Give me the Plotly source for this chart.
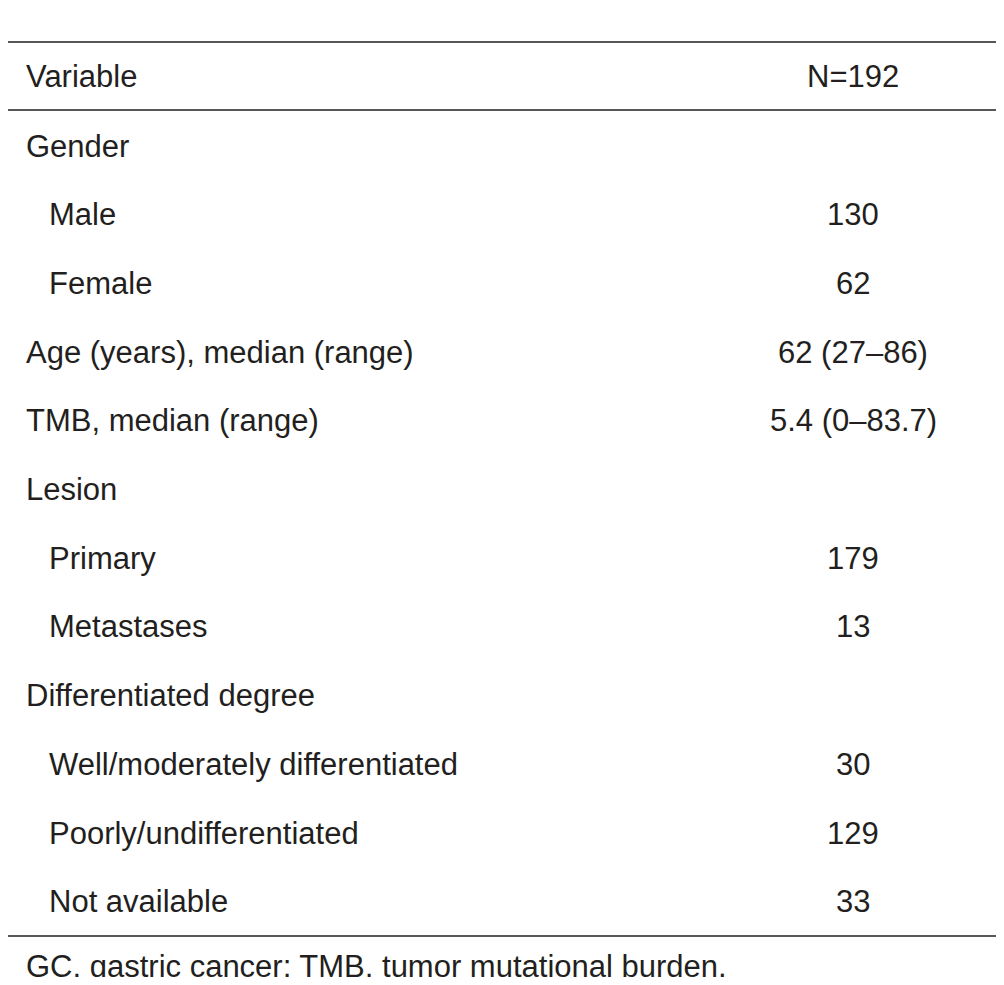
import plotly.graph_objects as go

title_bold = "Table 1"
title_rest = " Clinicopathologic features of 192 Chinese GC patients"
header = ["Variable", "N=192"]
labels = ["Gender", "Male", "Female", "Age (years), median (range)", "TMB, median (range)",
          "Lesion", "Primary", "Metastases", "Differentiated degree",
          "Well/moderately differentiated", "Poorly/undifferentiated", "Not available"]
indent = [0, 1, 1, 0, 0, 0, 1, 1, 0, 1, 1, 1]
values = ["", "130", "62", "62 (27–86)", "5.4 (0–83.7)", "", "179", "13", "", "30", "129", "33"]
footnote = "GC, gastric cancer; TMB, tumor mutational burden."

W, H, M = 1004, 985, 8
fig = go.Figure()
fig.update_layout(width=W - 2 * M, height=H - 2 * M, margin=dict(l=0, r=0, t=0, b=0),
                  plot_bgcolor="white", paper_bgcolor="white", showlegend=False,
                  xaxis=dict(range=[M, W - M], visible=False, fixedrange=True),
                  yaxis=dict(range=[H - M, M], visible=False, fixedrange=True))

sans = dict(family="Liberation Sans, Arial, sans-serif", size=31, color="#231f20")
ann = []
ann.append(dict(x=4, y=18, text=f"<b>{title_bold}</b>{title_rest}", xanchor="left", yanchor="middle",
                showarrow=False, font=dict(family="Liberation Serif, serif", size=34, color="#231f20")))
ann.append(dict(x=24, y=76, text=header[0], xanchor="left", yanchor="middle", showarrow=False, font=sans))
ann.append(dict(x=853, y=76, text=header[1], xanchor="center", yanchor="middle", showarrow=False, font=sans))
y0, dy = 146, 68.7
for i, (lab, ind, val) in enumerate(zip(labels, indent, values)):
    y = y0 + i * dy
    ann.append(dict(x=24 + 23 * ind, y=y, text=lab, xanchor="left", yanchor="middle", showarrow=False, font=sans))
    if val:
        ann.append(dict(x=853, y=y, text=val, xanchor="center", yanchor="middle", showarrow=False, font=sans))
ann.append(dict(x=24, y=966, text=footnote, xanchor="left", yanchor="middle", showarrow=False, font=sans))

shapes = [dict(type="line", x0=0, x1=W, y0=yy, y1=yy, line=dict(color="#231f20", width=w))
          for yy, w in [(42, 1.5), (110, 1.5), (936, 1.5)]]
fig.update_layout(annotations=ann, shapes=shapes)
fig.write_html("out.html")
